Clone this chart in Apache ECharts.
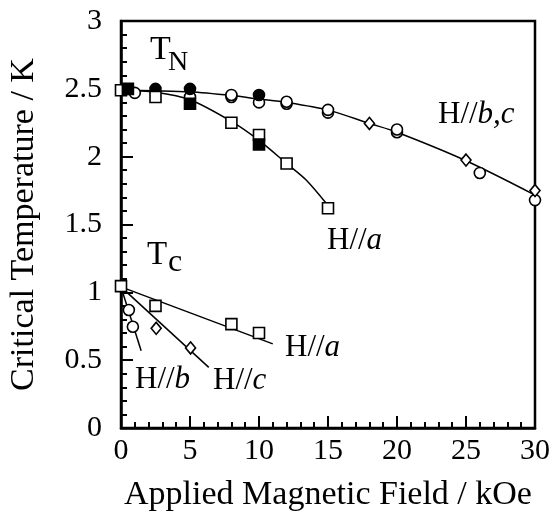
<!DOCTYPE html>
<html>
<head>
<meta charset="utf-8">
<script src="https://cdn.jsdelivr.net/npm/echarts@6/dist/echarts.min.js"></script>
<style>
html,body{margin:0;padding:0;background:#fff;}
#chart{width:555px;height:512px;}
</style>
</head>
<body>
<div id="chart"></div>
<script>
// ---- data (field in kOe, temperature in K) ----
var xTicks = [0, 5, 10, 15, 20, 25, 30];
var yTicks = [0, 0.5, 1, 1.5, 2, 2.5, 3];

// T_N fit curves
var fitBC_N = [[0,2.49],[2.5,2.486],[5,2.478],[8,2.45],[10,2.425],[12,2.40],[15,2.343],[18,2.245],[20,2.18],[25,1.97],[30,1.717]];
var fitA_N  = [[0,2.49],[2.5,2.475],[5,2.42],[8,2.26],[10,2.12],[12,1.95],[13.4,1.83],[15,1.64]];
// T_c fit lines
var fitA_C = [[0,1.04],[11,0.62]];
var fitC_C = [[0,1.04],[6.36,0.447]];
var fitB_C = [[0,1.04],[1.46,0.57]];

// T_N markers
var openSqN   = [[0,2.49],[2.5,2.44],[8,2.25],[10,2.16],[12,1.95],[15,1.62]];
var filledSqN = [[0.5,2.50],[5,2.39],[10,2.09]];
var openCircN = [[1,2.47],[5,2.44],[8,2.44],[8,2.455],[10,2.40],[12,2.39],[12,2.405],[15,2.325],[15,2.345],[20,2.18],[20,2.20],[26,1.88],[30,1.68]];
var filledCircN = [[2.5,2.50],[5,2.50],[10,2.455]];
var diamondN  = [[18,2.245],[25,1.975],[30,1.75]];
// T_c markers
var openSqC   = [[0,1.046],[2.5,0.90],[8,0.766],[10,0.70]];
var openCircC = [[0.57,0.87],[0.86,0.746]];
var diamondC  = [[2.55,0.735],[5.04,0.59]];

var FONT = 'Liberation Serif';
var chart = echarts.init(document.getElementById('chart'), null, {renderer:'canvas'});

function lineSeries(data){
  return {type:'line', data:data, showSymbol:false, symbol:'none', smooth:data.length>2?0.3:false,
    lineStyle:{color:'#000', width:1.5}, z:2, silent:true, animation:false};
}
function scatterSeries(data, symbol, size, filled){
  return {type:'scatter', data:data, symbol:symbol, symbolSize:size,
    itemStyle:{color: filled ? '#000' : '#fff', borderColor:'#000', borderWidth:1.6, opacity:1},
    z:3, silent:true, animation:false};
}

var option = {
  animation:false,
  backgroundColor:'#fff',
  grid:{left:121, right:20, top:21, bottom:84, show:true, borderColor:'#000', borderWidth:2.5, backgroundColor:'transparent', outerBoundsMode:'none', containLabel:false},
  xAxis:{
    type:'value', min:0, max:30, interval:5,
    name:'Applied Magnetic Field / kOe', nameLocation:'middle', nameGap:50,
    nameTextStyle:{fontFamily:FONT, fontSize:34, color:'#000'},
    axisLine:{show:true, lineStyle:{color:'#000', width:2.5}},
    axisTick:{show:true, inside:true, length:12, lineStyle:{color:'#000', width:2}},
    minorTick:{show:true, splitNumber:5, length:6, lineStyle:{color:'#000', width:2}},
    splitLine:{show:false}, minorSplitLine:{show:false},
    axisLabel:{fontFamily:FONT, fontSize:30, color:'#000', margin:8,
      formatter:function(v){ return xTicks.indexOf(v) >= 0 ? String(v) : ''; }}
  },
  yAxis:{
    type:'value', min:0, max:3, interval:0.5,
    name:'Critical Temperature / K', nameLocation:'middle', nameGap:80,
    nameTextStyle:{fontFamily:FONT, fontSize:34, color:'#000'},
    axisLine:{show:true, lineStyle:{color:'#000', width:2.5}},
    axisTick:{show:true, inside:true, length:12, lineStyle:{color:'#000', width:2}},
    minorTick:{show:true, splitNumber:5, length:6, lineStyle:{color:'#000', width:2}},
    splitLine:{show:false}, minorSplitLine:{show:false},
    axisLabel:{fontFamily:FONT, fontSize:30, color:'#000', margin:19,
      formatter:function(v){ return yTicks.indexOf(v) >= 0 ? String(v) : ''; }}
  },
  series:[
    lineSeries(fitBC_N), lineSeries(fitA_N),
    lineSeries(fitA_C), lineSeries(fitC_C), lineSeries(fitB_C),
    scatterSeries(openCircN, 'circle', 11, false),
    scatterSeries(filledCircN, 'circle', 11, true),
    scatterSeries(openSqN, 'rect', 11, false),
    scatterSeries(filledSqN, 'rect', 11, true),
    scatterSeries(diamondN, 'diamond', [10,12], false),
    scatterSeries(openSqC, 'rect', 11, false),
    scatterSeries(openCircC, 'circle', 11, false),
    scatterSeries(diamondC, 'diamond', [10,12], false)
  ]
};

function txt(x, y, text, size, italic){
  return {type:'text', x:x, y:y, z:10, silent:true,
    style:{text:text, fill:'#000', font:(italic?'italic ':'')+size+'px "'+FONT+'"', textAlign:'left', textVerticalAlign:'middle'}};
}
function hlab(x, y, tail){
  return {type:'text', x:x, y:y, z:10, silent:true,
    style:{text:'{h|H//}{i|'+tail+'}', fill:'#000', textAlign:'left', textVerticalAlign:'middle',
      rich:{h:{fontFamily:FONT, fontSize:31, color:'#000'}, i:{fontFamily:FONT, fontSize:31, fontStyle:'italic', color:'#000'}}}};
}
option.graphic = [
  txt(150, 50.5, 'T', 34, false),
  txt(168, 62.5, 'N', 28, false),
  txt(147, 255, 'T', 33, false),
  txt(168, 263, 'c', 32, false),
  hlab(438, 115, 'b,c'),
  hlab(327, 241, 'a'),
  hlab(285, 348, 'a'),
  hlab(135, 380, 'b'),
  hlab(213, 381, 'c')
];

chart.setOption(option);
</script>
</body>
</html>
